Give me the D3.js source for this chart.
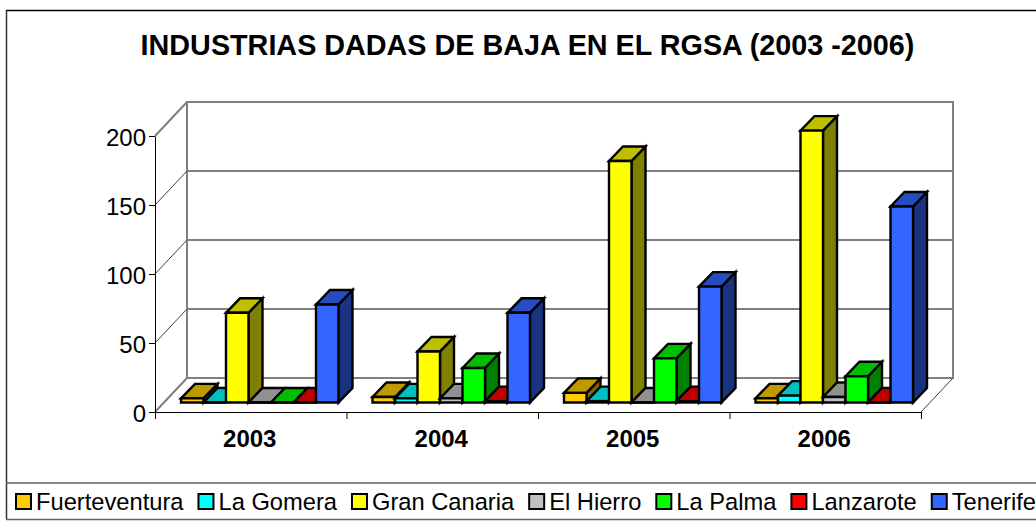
<!DOCTYPE html>
<html>
<head>
<meta charset="utf-8">
<script src="https://cdn.jsdelivr.net/npm/d3@7"></script>
<style>
  html, body { margin: 0; padding: 0; background: #fff; overflow: hidden; }
  svg { display: block; }
  text { font-family: "Liberation Sans", Arial, sans-serif; fill: #000; }
</style>
</head>
<body>
<script>
const years = ['2003', '2004', '2005', '2006'];
const islands = ['Fuerteventura', 'La Gomera', 'Gran Canaria', 'El Hierro', 'La Palma', 'Lanzarote', 'Tenerife'];

const fuerteventura = [3, 4, 7, 3];
const laGomera = [0, 3, 1, 5];
const granCanaria = [65, 37, 175, 197];
const elHierro = [0, 3, 0, 4];
const laPalma = [0, 25, 32, 19];
const lanzarote = [0, 1, 1, 0];
const tenerife = [71, 65, 84, 142];

const seriesValues = [fuerteventura, laGomera, granCanaria, elHierro, laPalma, lanzarote, tenerife];

const frontColors = ['#ffcc00', '#00ffff', '#ffff00', '#c0c0c0', '#00ff00', '#ff0000', '#3366ff'];
const topColors = ['#bf9900', '#00bfbf', '#bfbf00', '#909090', '#00bf00', '#bf0000', '#264cbf'];
const sideColors = ['#806600', '#008080', '#808000', '#606060', '#008000', '#800000', '#1a3380'];

const yTicks = [0, 50, 100, 150, 200];

const width = 1036, height = 522;
const plot = { left: 155, right: 921, bottom: 412, top: 136 };
const wall = { dx: 32, dy: 34 };     //floor depth
const barFront = { dx: 9, dy: 9.5 }; //bars stand a bit behind the front edge
const barDepth = { dx: 14, dy: 14.5 };

const svg = d3.select('body').append('svg')
  .attr('width', width)
  .attr('height', height);

const x = d3.scaleBand().domain(years).range([plot.left, plot.right]);
const y = d3.scaleLinear().domain([0, 200]).range([plot.bottom, plot.top]);
const groupPad = 17;
const xInner = d3.scaleBand()
  .domain(d3.range(islands.length))
  .range([groupPad, x.bandwidth() - groupPad]);

//outer frame and legend box
const frame = svg.append('g').attr('fill', 'none');
frame.append('line').attr('x1', 6).attr('x2', width).attr('y1', 10.5).attr('y2', 10.5)
  .attr('stroke', '#000').attr('stroke-width', 1.5);
frame.append('line').attr('x1', 6.5).attr('x2', 6.5).attr('y1', 10).attr('y2', 519)
  .attr('stroke', '#303030').attr('stroke-width', 1.5);
frame.append('line').attr('x1', 6).attr('x2', width).attr('y1', 483).attr('y2', 483)
  .attr('stroke', '#606060').attr('stroke-width', 1.5);
frame.append('line').attr('x1', 6).attr('x2', width).attr('y1', 519.5).attr('y2', 519.5)
  .attr('stroke', '#606060').attr('stroke-width', 1.5);

svg.append('text')
  .attr('x', 527.5).attr('y', 55)
  .attr('text-anchor', 'middle')
  .attr('font-size', 28.75).attr('font-weight', 'bold')
  .text('INDUSTRIAS DADAS DE BAJA EN EL RGSA (2003 -2006)');

//back wall and floor
const walls = svg.append('g').attr('fill', 'none').attr('stroke', '#808080').attr('stroke-width', 2);
walls.append('rect')
  .attr('x', plot.left + wall.dx).attr('y', plot.top - wall.dy)
  .attr('width', plot.right - plot.left)
  .attr('height', plot.bottom - plot.top);
walls.selectAll('line.grid')
  .data(yTicks.slice(1, -1))
  .enter().append('line')
  .attr('class', 'grid')
  .attr('x1', plot.left + wall.dx).attr('x2', plot.right + wall.dx)
  .attr('y1', d => y(d) - wall.dy).attr('y2', d => y(d) - wall.dy);

//side wall lines, the outer two are grey like the wall
svg.append('g').selectAll('line')
  .data(yTicks)
  .enter().append('line')
  .attr('x1', plot.left).attr('x2', plot.left + wall.dx)
  .attr('y1', d => y(d)).attr('y2', d => y(d) - wall.dy)
  .attr('stroke', d => (d === 0 || d === 200) ? '#808080' : '#404040')
  .attr('stroke-width', d => (d === 0 || d === 200) ? 2 : 1);

svg.append('line')
  .attr('x1', plot.right).attr('x2', plot.right + wall.dx)
  .attr('y1', plot.bottom).attr('y2', plot.bottom - wall.dy)
  .attr('stroke', '#404040');

//bars, left to right so each one covers the side of the previous
const bars = svg.append('g')
  .attr('stroke', '#000').attr('stroke-width', 2.4).attr('stroke-linejoin', 'miter');

function poly(pts) { return 'M' + pts.map(p => p.join(',')).join('L') + 'Z'; }

years.forEach((year, yi) => {
  islands.forEach((island, si) => {
    const v = seriesValues[si][yi];
    const x0 = x(year) + xInner(si) + barFront.dx;
    const x1 = x0 + xInner.bandwidth();
    const y0 = y(0) - barFront.dy;
    const y1 = y(v) - barFront.dy;
    const dx = barDepth.dx, dy = barDepth.dy;
    const g = bars.append('g');
    g.append('path').attr('fill', sideColors[si])
      .attr('d', poly([[x1, y1], [x1 + dx, y1 - dy], [x1 + dx, y0 - dy], [x1, y0]]));
    g.append('path').attr('fill', topColors[si])
      .attr('d', poly([[x0, y1], [x0 + dx, y1 - dy], [x1 + dx, y1 - dy], [x1, y1]]));
    g.append('path').attr('fill', frontColors[si])
      .attr('d', poly([[x0, y0], [x0, y1], [x1, y1], [x1, y0]]));
  });
});

//front axes
const axisLeft = svg.append('g')
  .attr('transform', `translate(${plot.left},0)`)
  .call(d3.axisLeft(y).tickValues(yTicks).tickSize(6).tickPadding(3).tickSizeOuter(0));
axisLeft.attr('font-family', null);
axisLeft.selectAll('text').attr('font-size', 24).attr('dy', '0.4em');

const axisBottom = svg.append('g')
  .attr('transform', `translate(0,${plot.bottom})`)
  .call(d3.axisBottom(x).tickSize(0).tickPadding(18).tickSizeOuter(0));
axisBottom.attr('font-family', null);
axisBottom.selectAll('text').attr('font-size', 24).attr('font-weight', 'bold').attr('dy', '0.71em')
  .attr('dx', -1);
axisBottom.selectAll('line.edge')
  .data(x.domain().map(d => x(d)).concat(plot.right))
  .enter().append('line')
  .attr('class', 'edge')
  .attr('stroke', '#000')
  .attr('x1', d => d + 0.5).attr('x2', d => d + 0.5)
  .attr('y1', 0).attr('y2', 7);

//legend
let legendX = 15;
const legend = svg.append('g');
islands.forEach((island, i) => {
  legend.append('rect')
    .attr('x', legendX + 1).attr('y', 494)
    .attr('width', 15).attr('height', 15)
    .attr('fill', frontColors[i])
    .attr('stroke', '#000').attr('stroke-width', 2);
  const label = legend.append('text')
    .attr('x', legendX + 21).attr('y', 510)
    .attr('font-size', 23.7)
    .text(island);
  legendX += 21 + label.node().getComputedTextLength() + 14;
});
</script>
</body>
</html>
